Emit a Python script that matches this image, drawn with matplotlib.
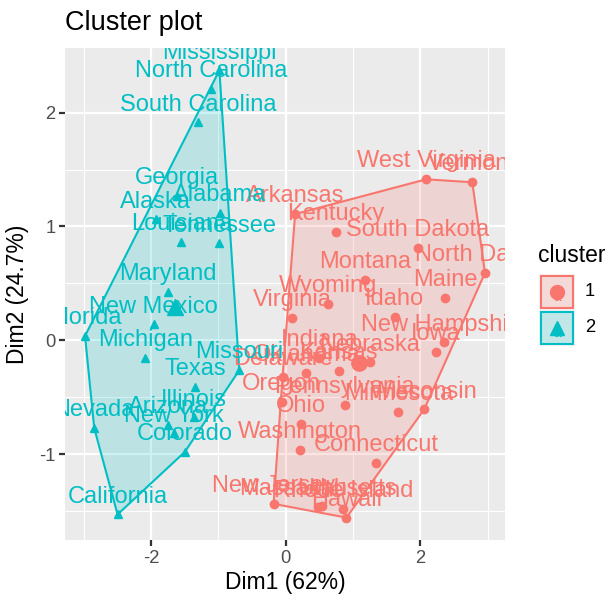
import numpy as np
import matplotlib
matplotlib.use("Agg")
import matplotlib.pyplot as plt
from matplotlib.patches import Polygon, Rectangle
from matplotlib.lines import Line2D

# ---- data: PCA scores of the states (Dim1, Dim2) and k-means cluster -------
states = [
    "Alabama", "Alaska", "Arizona", "Arkansas", "California", "Colorado",
    "Connecticut", "Delaware", "Florida", "Georgia", "Hawaii", "Idaho",
    "Illinois", "Indiana", "Iowa", "Kansas", "Kentucky", "Louisiana", "Maine",
    "Maryland", "Massachusetts", "Michigan", "Minnesota", "Mississippi",
    "Missouri", "Montana", "Nebraska", "Nevada", "New Hampshire", "New Jersey",
    "New Mexico", "New York", "North Carolina", "North Dakota", "Ohio",
    "Oklahoma", "Oregon", "Pennsylvania", "Rhode Island", "South Carolina",
    "South Dakota", "Tennessee", "Texas", "Utah", "Vermont", "Virginia",
    "Washington", "West Virginia", "Wisconsin", "Wyoming",
]
dim1 = [
    -0.976, -1.931, -1.745, 0.140, -2.499, -1.499,
    1.345, -0.047, -2.983, -1.623, 0.903, 1.623,
    -1.365, 0.500, 2.231, 0.789, 0.743, -1.549, 2.373,
    -1.746, 0.481, -2.087, 1.675, -0.986,
    -0.690, 1.174, 1.253, -2.846, 2.360, -0.180,
    -1.960, -1.666, -1.112, 2.962, 0.223,
    0.309, -0.059, 0.880, 0.855, -1.307,
    1.968, -0.990, -1.342, 0.545, 2.773, 0.096,
    0.215, 2.087, 2.058, 0.623,
]
dim2 = [
    1.122, 1.062, -0.738, 1.109, -1.527, -0.978,
    -1.078, -0.322, 0.039, 1.266, -1.555, 0.209,
    -0.675, -0.150, -0.103, -0.267, 0.949, 0.862, 0.373,
    0.423, -1.460, -0.154, -0.626, 2.370,
    -0.261, 0.531, -0.192, -0.768, -0.018, -1.434,
    0.141, -0.815, 2.205, 0.593, -0.735,
    -0.285, -0.536, -0.565, -1.477, 1.913,
    0.815, 0.852, -0.408, -1.456, 1.388, 0.197,
    -0.960, 1.414, -0.605, 0.318,
]
cluster = [
    2, 2, 2, 1, 2, 2,
    1, 1, 2, 2, 1, 1,
    2, 1, 1, 1, 1, 2, 1,
    2, 1, 2, 1, 2,
    2, 1, 1, 2, 1, 1,
    2, 2, 2, 1, 1,
    1, 1, 1, 1, 2,
    1, 2, 2, 1, 1, 1,
    1, 1, 1, 1,
]
cluster_ids = [1, 2]
cluster_colors = {1: "#F8766D", 2: "#00BFC4"}
cluster_markers = {1: "o", 2: "^"}

W, H = 613, 604


def fig_xy(px, py):
    """pixel position (from top-left) -> figure fraction"""
    return px / W, 1 - py / H


def convex_hull(pts):
    pts = sorted(map(tuple, pts))
    def cross(o, a, b):
        return (a[0] - o[0]) * (b[1] - o[1]) - (a[1] - o[1]) * (b[0] - o[0])
    lower, upper = [], []
    for p in pts:
        while len(lower) >= 2 and cross(lower[-2], lower[-1], p) <= 0:
            lower.pop()
        lower.append(p)
    for p in reversed(pts):
        while len(upper) >= 2 and cross(upper[-2], upper[-1], p) <= 0:
            upper.pop()
        upper.append(p)
    return np.array(lower[:-1] + upper[:-1])


plt.rcParams["font.family"] = ["Liberation Sans", "DejaVu Sans"]
plt.rcParams["axes.unicode_minus"] = False

x = np.array(dim1)
y = np.array(dim2)
cl = np.array(cluster)

fig = plt.figure(figsize=(W / 100, H / 100), dpi=100)
ax = fig.add_axes([65 / W, 1 - 540 / H, 440 / W, 492 / H])
ax.set_facecolor("#EBEBEB")
for s in ax.spines.values():
    s.set_visible(False)

# grid like ggplot
ax.set_xticks([-2, 0, 2])
ax.set_yticks([-1, 0, 1, 2])
ax.set_xticks([-3, -1, 1, 3], minor=True)
ax.set_yticks([-1.5, -0.5, 0.5, 1.5], minor=True)
ax.grid(True, which="major", color="white", linewidth=1.6)
ax.grid(True, which="minor", color="white", linewidth=0.8)
ax.set_axisbelow(True)
ax.tick_params(which="major", length=4, width=1.6, color="#333333",
               labelsize=13.2, labelcolor="#4D4D4D", pad=3)
ax.tick_params(which="minor", length=0)

for k in cluster_ids:
    m = cl == k
    col = cluster_colors[k]
    hull = convex_hull(np.column_stack([x[m], y[m]]))
    ax.add_patch(Polygon(hull, closed=True, facecolor=col, alpha=0.2,
                         edgecolor="none", zorder=2))
    ax.add_patch(Polygon(hull, closed=True, facecolor="none",
                         edgecolor=col, linewidth=1.5, zorder=3))
    ax.plot(x[m], y[m], linestyle="none", marker=cluster_markers[k],
            markersize=6, color=col, zorder=4)
    # cluster centre
    ax.plot(x[m].mean(), y[m].mean(), marker=cluster_markers[k],
            markersize=11, color=col, zorder=4)
    for name, xi, yi in zip(np.array(states)[m], x[m], y[m]):
        ax.annotate(name, (xi, yi), xytext=(0, 8.5), textcoords="offset points",
                    ha="center", va="baseline", fontsize=17, color=col,
                    annotation_clip=False, clip_on=True, zorder=5)

dx = (x.max() - x.min()) * 0.05
dy = (y.max() - y.min()) * 0.05
ax.set_xlim(x.min() - dx, x.max() + dx)
ax.set_ylim(y.min() - dy, y.max() + dy)

# titles
fx, fy = fig_xy(65, 30)
fig.text(fx, fy, "Cluster plot", fontsize=19.5, ha="left", va="baseline")
fx, fy = fig_xy(285, 583)
fig.text(fx, fy, "Dim1 (62%)", fontsize=16.5, ha="center", va="center")
fx, fy = fig_xy(18, 294)
fig.text(fx, fy, "Dim2 (24.7%)", fontsize=16.5, ha="center", va="center",
         rotation=90)

# ---- legend -----------------------------------------------------------------
fx, fy = fig_xy(538, 255)
fig.text(fx, fy, "cluster", fontsize=16.5, ha="left", va="center")
for i, k in enumerate(cluster_ids):
    col = cluster_colors[k]
    top = 274 + i * 36
    x0, y0 = fig_xy(539, top + 36)
    kw, kh = 36 / W, 36 / H
    fig.add_artist(Rectangle((x0, y0), kw, kh, transform=fig.transFigure,
                             facecolor="#F2F2F2", edgecolor="none"))
    fig.add_artist(Rectangle((x0 + 2 / W, y0 + 2 / H), kw - 4 / W, kh - 4 / H,
                             transform=fig.transFigure, facecolor=col,
                             alpha=0.2, edgecolor="none"))
    fig.add_artist(Rectangle((x0 + 2 / W, y0 + 2 / H), kw - 4 / W, kh - 4 / H,
                             transform=fig.transFigure, facecolor="none",
                             edgecolor=col, linewidth=1.5))
    cx, cy = fig_xy(557, top + 18)
    fig.text(cx, cy - 5 / H, "a", fontsize=10, color=col, ha="center",
             va="center")
    fig.add_artist(Line2D([cx], [cy], transform=fig.transFigure,
                          marker=cluster_markers[k], markersize=10,
                          color=col, linestyle="none"))
    lx, ly = fig_xy(585, top + 18)
    fig.text(lx, ly, str(k), fontsize=13.2, ha="left", va="center")

fig.savefig("out.png", dpi=100)
